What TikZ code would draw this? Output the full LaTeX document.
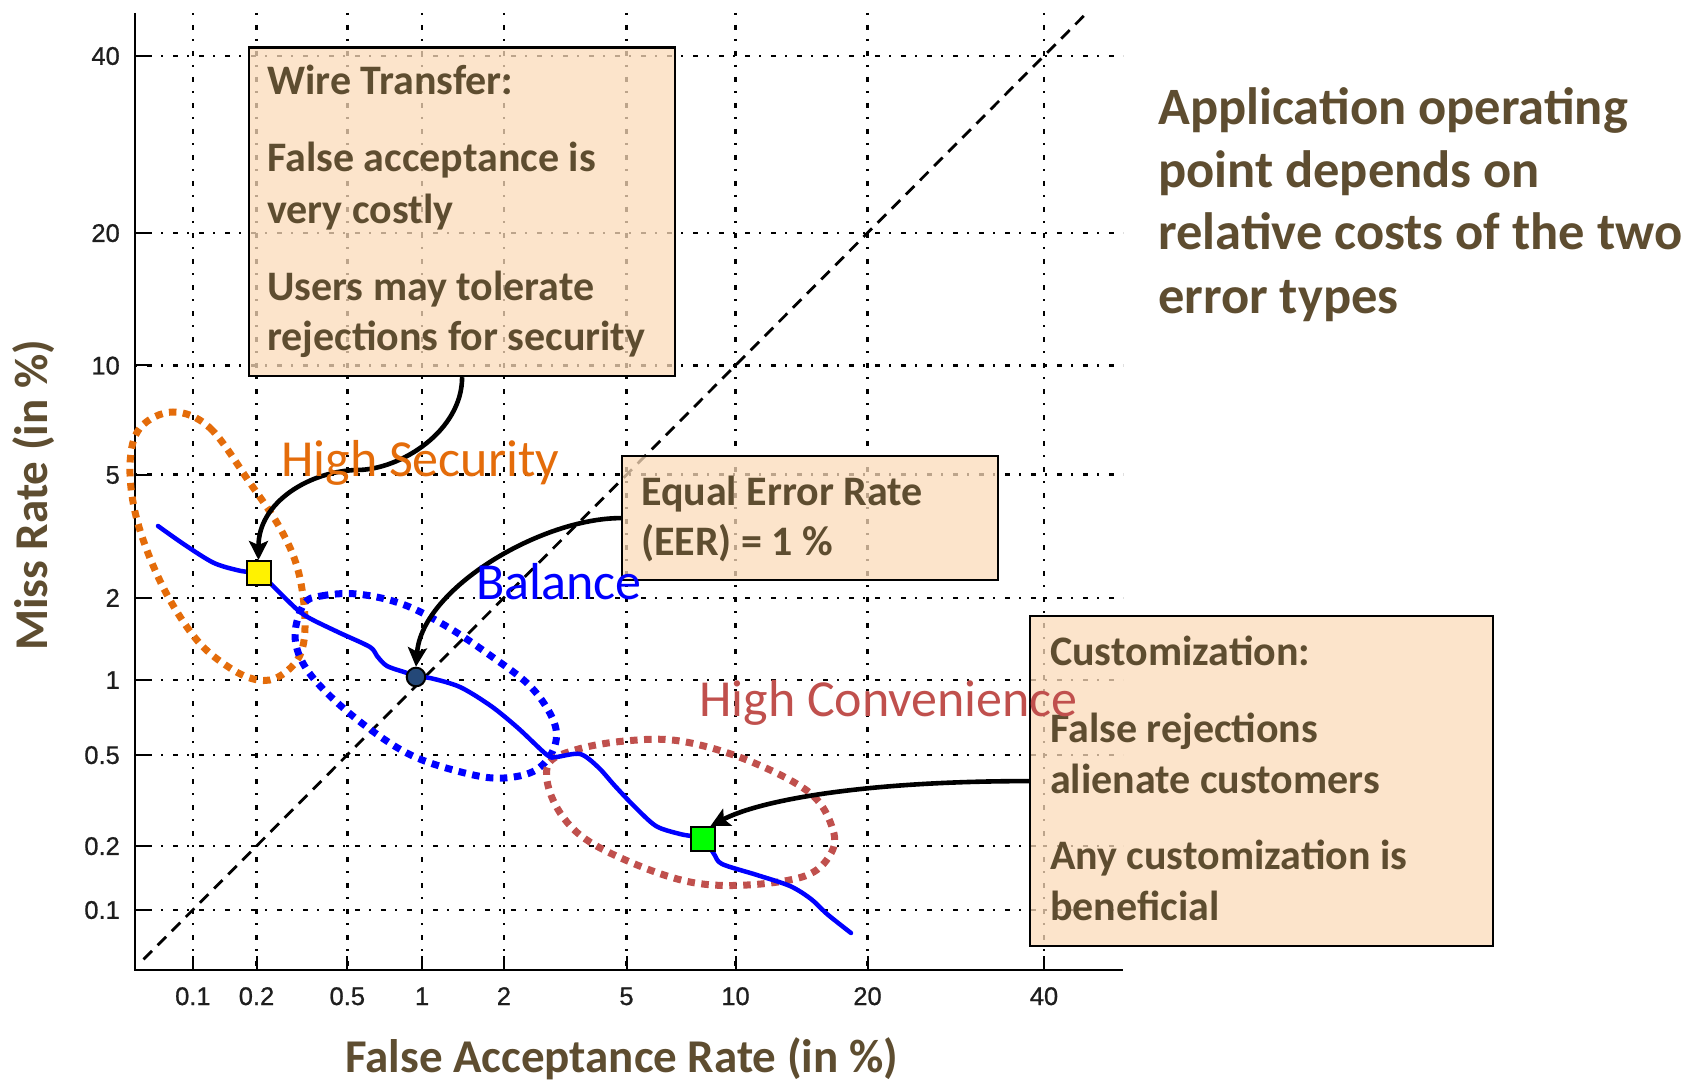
\documentclass[tikz,border=0pt]{standalone}
\usepackage{fontspec}
\setmainfont{Carlito}
\newfontfamily\tickfont[FakeBold=0.8]{Liberation Sans}
\usetikzlibrary{arrows.meta}

\definecolor{txtbrown}{RGB}{94,77,48}
\definecolor{peach}{RGB}{252,219,186}
\definecolor{secorange}{RGB}{228,108,10}
\definecolor{convred}{RGB}{192,80,77}
\definecolor{curveblue}{RGB}{0,0,255}
\definecolor{eerblue}{RGB}{36,72,120}
\definecolor{tickgray}{RGB}{30,30,30}

\tikzset{
  gridline/.style={line width=2.5pt, dash pattern=on 2pt off 10pt on 5pt off 9pt, black},
  axisline/.style={line width=2.2pt, black},
  tickmark/.style={line width=2pt, black},
  ticklabel/.style={font=\tickfont\fontsize{25.5}{30}\selectfont, text=tickgray, inner sep=0pt},
  diag/.style={line width=2.8pt, dash pattern=on 12pt off 8pt, black},
  region/.style={line width=7pt, dash pattern=on 7.5pt off 6.5pt},
  detcurve/.style={line width=4.5pt, draw=curveblue, line join=round, line cap=round},
  opmark/.style={draw=black, line width=2pt, inner sep=0pt},
  callout/.style={rectangle, draw=black, line width=2.2pt, fill=peach, fill opacity=0.75,
                  inner sep=0pt, anchor=north west},
  calltext/.style={font=\fontsize{42}{50}\selectfont\bfseries, text=txtbrown,
                   anchor=base west, inner sep=0pt},
  pointer/.style={line width=4.6pt, black, -{Stealth[length=19pt,width=19pt,inset=4pt]}},
  regionlabel/.style={font=\fontsize{52}{60}\selectfont, anchor=base west, inner sep=0pt},
  headline/.style={font=\fontsize{52.5}{63}\selectfont\bfseries, text=txtbrown,
                   anchor=base west, inner sep=0pt},
  axistitle/.style={font=\fontsize{47}{56}\selectfont\bfseries, text=txtbrown,
                    anchor=base west, inner sep=0pt}
}

\begin{document}
\begin{tikzpicture}[x=1pt,y=-1pt]
\useasboundingbox (0,0) rectangle (1696,1083);
\fill[white] (0,0) rectangle (1696,1083);

% grid on the normal-deviate scale
\foreach \p in {192.9,256.5,347.3,422.1,503.9,626.5,735.5,867.5,1044.0}
  \draw[gridline] (\p,13) -- (\p,970);
\foreach \p in {55.8,232.9,365.4,474.7,597.8,679.8,754.9,845.9,909.8}
  \draw[gridline] (135,\p) -- (1123,\p);

% axes and ticks
\draw[axisline] (135,13) -- (135,970) -- (1123,970);
\foreach \p in {192.9,256.5,347.3,422.1,503.9,626.5,735.5,867.5,1044.0}
  \draw[tickmark] (\p,970) -- (\p,956);
\foreach \p in {55.8,232.9,365.4,474.7,597.8,679.8,754.9,845.9,909.8}
  \draw[tickmark] (135,\p) -- (149,\p);

% tick labels
\foreach \v/\p [count=\i] in {0.1/192.9,0.2/256.5,0.5/347.3,1/422.1,2/503.9,5/626.5,10/735.5,20/867.5,40/1044.0}
  \node[ticklabel, anchor=base] (xt\i) at (\p,1005) {\v};
\foreach \v/\p [count=\i] in {40/55.8,20/232.9,10/365.4,5/474.7,2/597.8,1/679.8,0.5/754.9,0.2/845.9,0.1/909.8}
  \node[ticklabel, anchor=base east] (yt\i) at (120,\p+9) {\v};

% equal error rate diagonal
\draw[diag] (143.5,959.4) -- (1085.5,14.2);

% operating regions
\draw[region, draw=secorange] plot[smooth cycle, tension=0.6] coordinates {
  (173,412) (210,428) (250,483) (280,528) (298,570) (305,620) (300,655) (280,676)
  (258,680) (230,668) (196,639) (162,585) (137,520) (130,465) (140,428)};
\draw[region, draw=curveblue] plot[smooth cycle, tension=0.6] coordinates {
  (304,604) (321,596) (357,594) (402,604) (446,626) (491,656) (531,687) (554,722)
  (554,748) (536,770) (504,778) (469,774) (415,757) (371,730) (330,696) (304,665) (295,635)};
\draw[region, draw=convred] plot[smooth cycle, tension=0.6] coordinates {
  (548,765) (575,750) (625,741) (680,741) (747,760) (810,793) (833,830) (830,855)
  (805,876) (747,885) (690,882) (630,862) (580,835) (553,800)};

% DET curve
\draw[detcurve] plot[smooth, tension=0.5] coordinates {
  (158,526) (185,545) (214,563) (241,571) (258.5,573) (270,583) (285,598) (300,612)
  (313,620) (340,633) (370,647) (377,656) (387,666) (407,673) (416,677) (430,678)
  (460,687) (491,706) (518,728) (547,755) (556,757) (580,754) (598,767) (615,786)
  (634,806) (656,826) (680,834) (703,839) (714,854) (722,864) (757,875) (790,886)
  (811,899) (827,914) (851,933)};

% operating points
\node[opmark, rectangle, fill=yellow, minimum size=24pt] (ptsec) at (258.5,573) {};
\node[opmark, circle, fill=eerblue, minimum size=18.6pt] (pteer) at (416,677) {};
\node[opmark, rectangle, fill=green, minimum size=24pt] (ptconv) at (703,839) {};

% callout boxes
\node[callout, minimum width=426pt, minimum height=328.5pt] (wire) at (248,46.5) {};
\node[callout, minimum width=376pt, minimum height=124pt] (eer) at (621,455) {};
\node[callout, minimum width=463pt, minimum height=330pt] (cust) at (1029,615) {};

% pointers from the callouts to the operating points
\draw[pointer] (wire.south) .. controls +(0,54) and +(43,0) .. (357,470)
  .. controls +(-47,1) and +(0,-58) .. (ptsec.north);
\draw[pointer] (eer.west) .. controls +(-80,0) and +(6,-78) .. (pteer.north);
\draw[pointer] (cust.west) .. controls +(-165,0) and +(50,-26) .. (ptconv.60);

% callout texts
\node[calltext] (wt1) at (267,95) {Wire Transfer:};
\node[calltext] (wt2) at (267,172) {False acceptance is};
\node[calltext] (wt3) at (267,223.5) {very costly};
\node[calltext] (wt4) at (267,300) {Users may tolerate};
\node[calltext] (wt5) at (267,350) {rejections for security};

\node[calltext] (er1) at (641,505) {Equal Error Rate};
\node[calltext] (er2) at (641,555) {(EER) = 1 \%};

\node[calltext] (cu1) at (1050,665) {Customization:};
\node[calltext] (cu2) at (1050,742) {False rejections};
\node[calltext] (cu3) at (1050,793) {alienate customers};
\node[calltext] (cu4) at (1050,869) {Any customization is};
\node[calltext] (cu5) at (1050,920) {beneficial};

% region labels
\node[regionlabel, text=secorange] (lsec) at (281,476) {High Security};
\node[regionlabel, text=curveblue] (lbal) at (476,599) {Balance};
\node[regionlabel, text=convred] (lconv) at (699,716) {High Convenience};

% headline
\node[headline] (h1) at (1158,125) {Application operating};
\node[headline] (h2) at (1158,188) {point depends on};
\node[headline] (h3) at (1158,250) {relative costs of the two};
\node[headline] (h4) at (1158,313) {error types};

% axis titles
\node[axistitle] (xtitle) at (345,1072) {False Acceptance Rate (in \%)};
\node[axistitle, rotate=90] (ytitle) at (47,651) {Miss Rate (in \%)};
\end{tikzpicture}
\end{document}
